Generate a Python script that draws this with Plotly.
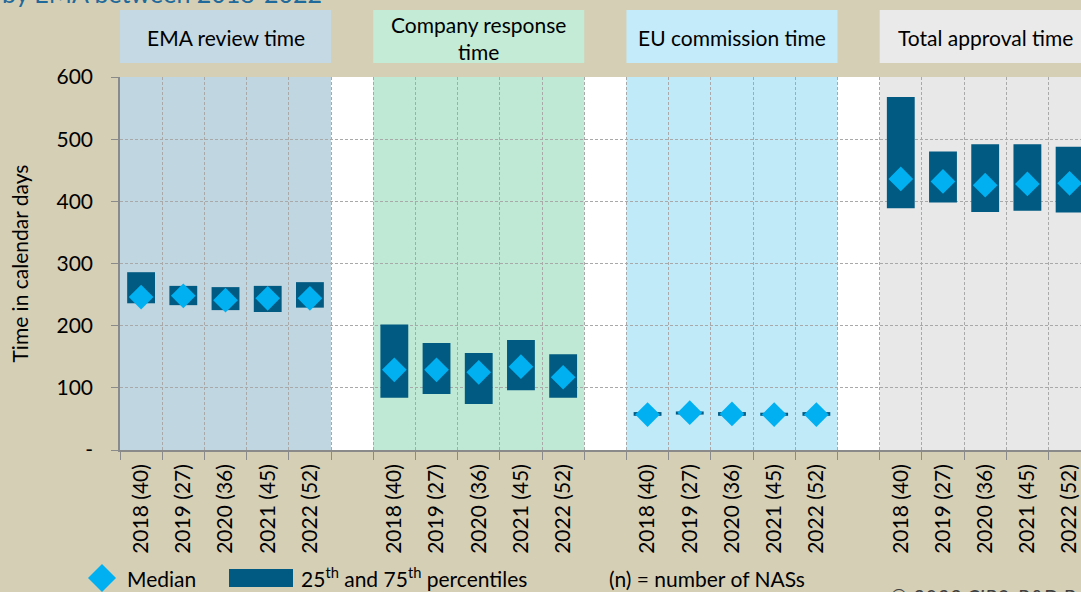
import plotly.graph_objects as go

# ---------------- data ----------------
groups = ["EMA review time", "Company response<br>time", "EU commission time", "Total approval time"]
years = ["2018 (40)", "2019 (27)", "2020 (36)", "2021 (45)", "2022 (52)"]

ema_p25 = [236, 233, 225, 222, 229]
ema_p75 = [286, 264, 262, 264, 270]
ema_med = [246, 248, 241, 244, 244]

company_p25 = [84, 90, 74, 96, 84]
company_p75 = [202, 172, 156, 177, 154]
company_med = [129, 129, 125, 134, 117]

eu_p25 = [55, 57, 55, 55, 55]
eu_p75 = [61, 62, 61, 60, 61]
eu_med = [57, 60, 58, 57, 57]

total_p25 = [389, 398, 383, 385, 382]
total_p75 = [568, 480, 492, 492, 488]
total_med = [436, 432, 426, 428, 429]

p25 = [ema_p25, company_p25, eu_p25, total_p25]
p75 = [ema_p75, company_p75, eu_p75, total_p75]
med = [ema_med, company_med, eu_med, total_med]

y_ticks = [0, 100, 200, 300, 400, 500, 600]
y_ticktext = ["-", "100", "200", "300", "400", "500", "600"]

# ---------------- style ----------------
BG = "#D5CFB6"
BAR = "#005A82"
DIAM = "#00B0F0"
GRID = "#A9A9A9"
AXIS = "#8A8A8A"
panel_colors = ["#C0D6E1", "#BFE9D4", "#C0EAF8", "#E8E8E8"]
header_colors = ["#C4D9E3", "#C3EBD6", "#C3EBF9", "#EAEAEA"]
FONT = "Lato"

SLOT = len(years) + 1
W, H = 1081, 592
ML, MR, MT, MB = 120, 0, 77, 142
PW = W - ML - MR
PH = H - MT - MB
XMAX = 22.27


def px_x(p):
    return (p - ML) / PW


def px_y(p):
    return (H - MB - p) / PH


fig = go.Figure()

xs_all, lab_all = [], []
for g in range(len(groups)):
    xs = [g * SLOT + j for j in range(len(years))]
    xs_all += xs
    lab_all += years
    fig.add_trace(go.Bar(
        x=xs,
        y=[b - a for a, b in zip(p25[g], p75[g])],
        base=p25[g],
        width=0.66,
        marker=dict(color=BAR, line=dict(width=0)),
        showlegend=False,
    ))
    fig.add_trace(go.Scatter(
        x=xs, y=med[g], mode="markers",
        marker=dict(symbol="diamond", size=19, color=DIAM, line=dict(width=0)),
        showlegend=False,
    ))

shapes = []
annotations = []
for g, name in enumerate(groups):
    x0 = g * SLOT - 0.5
    x1 = g * SLOT + len(years) - 0.5
    shapes.append(dict(type="rect", xref="x", yref="paper", x0=x0, x1=x1, y0=0, y1=1,
                       fillcolor=panel_colors[g], line=dict(width=0), layer="below"))
    shapes.append(dict(type="rect", xref="x", yref="paper", x0=x0, x1=x1,
                       y0=px_y(63), y1=px_y(10),
                       fillcolor=header_colors[g], line=dict(width=0), layer="above"))
    annotations.append(dict(xref="x", yref="paper", x=(x0 + x1) / 2, y=px_y(38),
                            text=name, showarrow=False, xanchor="center", yanchor="middle",
                            font=dict(family=FONT, size=21, color="#000000")))

# legend glyphs
shapes.append(dict(type="path", xref="paper", yref="paper", xsizemode="pixel", ysizemode="pixel",
                   xanchor=px_x(102), yanchor=px_y(578),
                   path="M 0 14 L 14 0 L 0 -14 L -14 0 Z",
                   fillcolor=DIAM, line=dict(width=0), layer="above"))
shapes.append(dict(type="rect", xref="paper", yref="paper",
                   x0=px_x(229), x1=px_x(293), y0=px_y(587), y1=px_y(569),
                   fillcolor=BAR, line=dict(width=0), layer="above"))

annotations += [
    dict(xref="paper", yref="paper", x=px_x(125), y=px_y(578), text="Median",
         showarrow=False, xanchor="left", yanchor="middle",
         font=dict(family=FONT, size=21, color="#000000")),
    dict(xref="paper", yref="paper", x=px_x(299), y=px_y(577),
         text="25<sup>th</sup> and 75<sup>th</sup> percentiles",
         showarrow=False, xanchor="left", yanchor="middle",
         font=dict(family=FONT, size=21, color="#000000")),
    dict(xref="paper", yref="paper", x=px_x(607), y=px_y(578), text="(n) = number of NASs",
         showarrow=False, xanchor="left", yanchor="middle",
         font=dict(family=FONT, size=21, color="#000000")),
    dict(xref="paper", yref="paper", x=px_x(888), y=px_y(582),
         text="<i>© 2023 CIRS, R&D Briefing</i>",
         showarrow=False, xanchor="left", yanchor="top",
         font=dict(family=FONT, size=21, color="#404040")),
    dict(xref="paper", yref="paper", x=px_x(0), y=px_y(10),
         text="by EMA between 2018-2022",
         showarrow=False, xanchor="left", yanchor="bottom",
         font=dict(family=FONT, size=25, color="#1F6A9A")),
    dict(xref="paper", yref="paper", x=px_x(19), y=0.5,
         text="Time in calendar days", textangle=-90,
         showarrow=False, xanchor="center", yanchor="middle",
         font=dict(family=FONT, size=21, color="#000000")),
]

boundaries = [k - 0.5 for k in range(len(groups) * SLOT)]

fig.update_layout(
    width=W, height=H,
    margin=dict(l=ML, r=MR, t=MT, b=MB, pad=0),
    paper_bgcolor=BG, plot_bgcolor="#FFFFFF",
    barmode="overlay",
    shapes=shapes, annotations=annotations,
    xaxis=dict(
        range=[-0.5, XMAX],
        tickvals=xs_all, ticktext=lab_all, tickangle=-90,
        ticks="", showgrid=False, zeroline=False,
        showline=True, linecolor=AXIS, linewidth=1.5,
        ticklabelstandoff=4,
        tickfont=dict(family=FONT, size=21, color="#000000"),
        minor=dict(tickvals=boundaries, ticks="outside", ticklen=8, tickcolor=AXIS,
                   showgrid=True, gridcolor=GRID, griddash="3px,2px", gridwidth=1),
    ),
    yaxis=dict(
        range=[0, 600], tickvals=y_ticks, ticktext=y_ticktext,
        ticks="outside", ticklen=7, tickcolor=AXIS,
        showline=True, linecolor=AXIS, linewidth=1.5,
        showgrid=True, gridcolor=GRID, griddash="3px,2px", gridwidth=1,
        zeroline=False, ticklabelstandoff=14,
        tickfont=dict(family=FONT, size=21, color="#000000"),
    ),
)

fig.write_html(
    "out.html",
    config={"displayModeBar": False},
    post_script="document.body.style.margin='0';document.body.style.padding='0';"
                "document.body.style.overflow='hidden';"
                "document.body.style.background='" + BG + "';",
)
